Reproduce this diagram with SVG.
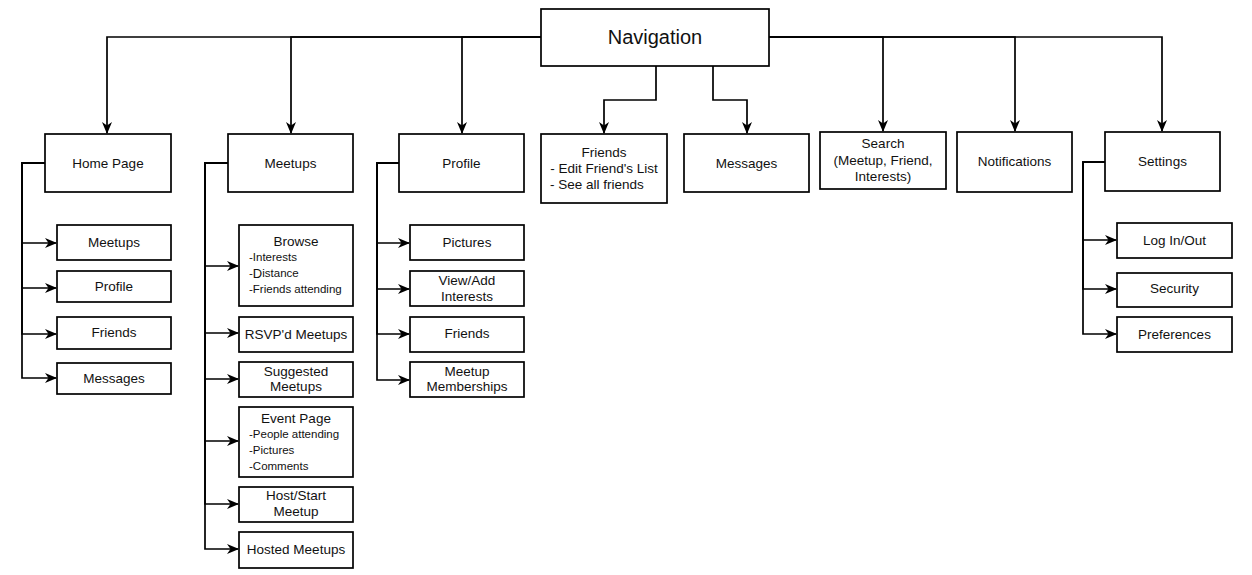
<svg xmlns="http://www.w3.org/2000/svg" width="1252" height="575" viewBox="0 0 1252 575">
<style>
rect{fill:#fff;stroke:#000;stroke-width:1.7}
text{font-family:"Liberation Sans",Arial,sans-serif;font-size:13.5px;fill:#111;text-anchor:middle;dominant-baseline:central}
.big{font-size:20px}
.sub{font-size:11.5px;text-anchor:start}
.c path{fill:none;stroke:#000;stroke-width:1.7;marker-end:url(#ah)}
</style>
<defs>
<marker id="ah" viewBox="0 0 12 11" refX="11" refY="5.5" markerWidth="12" markerHeight="11" markerUnits="userSpaceOnUse" orient="auto">
<path d="M0,0.5 L12,5.5 L0,10.5 L3.5,5.5 Z" fill="#000"/>
</marker>
</defs>
<g class="c" id="connectors">
<path d="M541,37 H107 V133"/>
<path d="M541,37 H291 V133"/>
<path d="M541,37 H462 V133"/>
<path d="M656,66 V100 H604 V133"/>
<path d="M713,66 V100 H747 V133"/>
<path d="M769,37 H883 V131"/>
<path d="M769,37 H1015 V131"/>
<path d="M769,37 H1162 V131"/>
<path d="M45,163 H22 V243 H56"/>
<path d="M45,163 H22 V288 H56"/>
<path d="M45,163 H22 V334 H56"/>
<path d="M45,163 H22 V378 H56"/>
<path d="M228,163 H205 V266 H238"/>
<path d="M228,163 H205 V333 H238"/>
<path d="M228,163 H205 V379 H238"/>
<path d="M228,163 H205 V441 H238"/>
<path d="M228,163 H205 V504 H238"/>
<path d="M228,163 H205 V549 H238"/>
<path d="M399,163 H377 V243 H409"/>
<path d="M399,163 H377 V289 H409"/>
<path d="M399,163 H377 V334 H409"/>
<path d="M399,163 H377 V380 H409"/>
<path d="M1105,162 H1083 V240 H1116"/>
<path d="M1105,162 H1083 V289 H1116"/>
<path d="M1105,162 H1083 V334 H1116"/>
</g>
<g id="navigation"><rect x="541" y="9" width="228" height="57"/><text class="big" x="655" y="37">Navigation</text></g>
<g id="home"><rect x="45" y="134" width="126" height="58"/><text x="108" y="163">Home Page</text></g>
<g id="meetups"><rect x="228" y="134" width="125" height="58"/><text x="290.5" y="163">Meetups</text></g>
<g id="profile"><rect x="399" y="134" width="125" height="58"/><text x="461.5" y="163">Profile</text></g>
<g id="friends"><rect x="541" y="134" width="126" height="69"/><text x="604" y="152">Friends</text><text x="604" y="168">- Edit Friend's List</text><text x="550" y="184" style="text-anchor:start">- See all friends</text></g>
<g id="messages"><rect x="684" y="134" width="125" height="58"/><text x="746.5" y="163">Messages</text></g>
<g id="search"><rect x="820" y="132" width="126" height="57"/><text x="883" y="143">Search</text><text x="883" y="160">(Meetup, Friend,</text><text x="883" y="176">Interests)</text></g>
<g id="notifications"><rect x="957" y="132" width="115" height="60"/><text x="1014.5" y="161">Notifications</text></g>
<g id="settings"><rect x="1105" y="132" width="115" height="59"/><text x="1162.5" y="161">Settings</text></g>
<g id="home-meetups"><rect x="57" y="225" width="114" height="35"/><text x="114" y="242">Meetups</text></g>
<g id="home-profile"><rect x="57" y="271" width="114" height="31"/><text x="114" y="286">Profile</text></g>
<g id="home-friends"><rect x="57" y="317" width="114" height="32"/><text x="114" y="332">Friends</text></g>
<g id="home-messages"><rect x="57" y="363" width="114" height="31"/><text x="114" y="378">Messages</text></g>
<g id="browse"><rect x="239" y="225" width="114" height="81"/><text x="296" y="241">Browse</text><text class="sub" x="249" y="257">-Interests</text><text class="sub" x="249" y="273">-<tspan style="font-size:13px">D</tspan>istance</text><text class="sub" x="249" y="289">-Friends attending</text></g>
<g id="rsvpd"><rect x="239" y="317" width="114" height="35"/><text x="296" y="334">RSVP'd Meetups</text></g>
<g id="suggested"><rect x="239" y="362" width="114" height="35"/><text x="296" y="371">Suggested</text><text x="296" y="386">Meetups</text></g>
<g id="event"><rect x="239" y="407" width="114" height="70"/><text x="296" y="418">Event Page</text><text class="sub" x="249" y="434">-People attending</text><text class="sub" x="249" y="450">-Pictures</text><text class="sub" x="249" y="466">-Comments</text></g>
<g id="host"><rect x="239" y="487" width="114" height="35"/><text x="296" y="495">Host/Start</text><text x="296" y="511">Meetup</text></g>
<g id="hosted"><rect x="239" y="532" width="114" height="36"/><text x="296" y="549">Hosted Meetups</text></g>
<g id="pictures"><rect x="410" y="225" width="114" height="35"/><text x="467" y="242">Pictures</text></g>
<g id="interests"><rect x="410" y="271" width="114" height="35"/><text x="467" y="280">View/Add</text><text x="467" y="296">Interests</text></g>
<g id="profile-friends"><rect x="410" y="317" width="114" height="35"/><text x="467" y="333">Friends</text></g>
<g id="memberships"><rect x="410" y="362" width="114" height="35"/><text x="467" y="371">Meetup</text><text x="467" y="386">Memberships</text></g>
<g id="login"><rect x="1117" y="223" width="115" height="35"/><text x="1174.5" y="240">Log In/Out</text></g>
<g id="security"><rect x="1117" y="273" width="115" height="34"/><text x="1174.5" y="288">Security</text></g>
<g id="preferences"><rect x="1117" y="317" width="115" height="35"/><text x="1174.5" y="334">Preferences</text></g>
</svg>
